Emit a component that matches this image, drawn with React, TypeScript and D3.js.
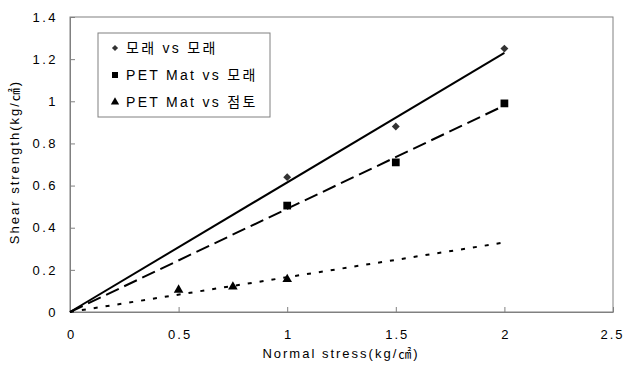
import { useEffect, useRef } from 'react';
import * as d3 from 'd3';

// data
const sandX = [1, 1.5, 2];
const sandY = [0.64, 0.88, 1.25];
const matSandX = [1, 1.5, 2];
const matSandY = [0.505, 0.71, 0.99];
const matClayX = [0.5, 0.75, 1];
const matClayY = [0.105, 0.12, 0.155];

// trendlines (through origin), start and end points
const trendX = [0, 2];
const sandTrend = [0, 1.23];
const matSandTrend = [0, 0.98];
const matClayTrend = [0, 0.33];

const xTicks = [0, 0.5, 1, 1.5, 2, 2.5];
const yTicks = [0, 0.2, 0.4, 0.6, 0.8, 1, 1.2, 1.4];
const legendLabels = ['모래 vs 모래', 'PET Mat vs 모래', 'PET Mat vs 점토'];

const FONT = '"Liberation Sans", Arial, "Noto Sans CJK KR", sans-serif';

const App = () => {
  const svgRef = useRef<SVGSVGElement>(null);

  useEffect(() => {
    const root = d3.select(svgRef.current);
    root.selectAll('*').remove();

    const W = 625;
    const H = 365;
    const margin = { top: 17, left: 70 };
    const width = 613 - margin.left;
    const height = 312 - margin.top;

    root.attr('width', W).attr('height', H);
    root.append('rect').attr('width', W).attr('height', H).attr('fill', '#fff');

    const svg = root.append('g').attr('transform', `translate(${margin.left},${margin.top})`);

    const x = d3.scaleLinear().domain([0, 2.5]).range([0, width]);
    const y = d3.scaleLinear().domain([0, 1.4]).range([height, 0]);

    // plot frame
    svg
      .append('rect')
      .attr('x', 0)
      .attr('y', 0)
      .attr('width', width)
      .attr('height', height)
      .attr('fill', 'none')
      .attr('stroke', '#808080')
      .attr('stroke-width', 1);

    // axes
    const xAxis = svg
      .append('g')
      .attr('transform', `translate(0,${height})`)
      .call(d3.axisBottom(x).tickValues(xTicks).tickSizeInner(-5).tickSizeOuter(0).tickFormat(d3.format('')));
    const yAxis = svg
      .append('g')
      .call(d3.axisLeft(y).tickValues(yTicks).tickSizeInner(-5).tickSizeOuter(0).tickFormat(d3.format('')));

    [xAxis, yAxis].forEach(a => {
      a.select('.domain').attr('stroke', '#808080');
      a.selectAll('.tick line').attr('stroke', '#808080');
      a.selectAll('.tick text')
        .attr('fill', '#000')
        .style('font-family', FONT)
        .style('font-size', '13px')
        .style('letter-spacing', '2.5px');
    });
    xAxis.selectAll('.tick text').attr('y', 18).attr('dx', 1).style('letter-spacing', '2px');
    xAxis.selectAll('.tick:last-of-type text').attr('dx', -1);
    yAxis.selectAll('.tick text').attr('x', -12);

    // axis titles
    svg
      .append('text')
      .attr('x', 271)
      .attr('y', height + 46)
      .attr('text-anchor', 'middle')
      .style('font-family', FONT)
      .style('font-size', '13px')
      .style('letter-spacing', '2px')
      .text('Normal stress(kg/㎠)');

    svg
      .append('text')
      .attr('transform', 'rotate(-90)')
      .attr('x', -145)
      .attr('y', -51)
      .attr('text-anchor', 'middle')
      .style('font-family', FONT)
      .style('font-size', '13px')
      .style('letter-spacing', '2px')
      .text('Shear strength(kg/㎠)');

    // trendlines
    const line = d3
      .line<number>()
      .x((d, i) => x(trendX[i]))
      .y(d => y(d));

    svg.append('path').datum(sandTrend).attr('d', line).attr('fill', 'none').attr('stroke', '#000').attr('stroke-width', 2);
    svg
      .append('path')
      .datum(matSandTrend)
      .attr('d', line)
      .attr('fill', 'none')
      .attr('stroke', '#000')
      .attr('stroke-width', 2)
      .attr('stroke-dasharray', '14 6');
    svg
      .append('path')
      .datum(matClayTrend)
      .attr('d', line)
      .attr('fill', 'none')
      .attr('stroke', '#000')
      .attr('stroke-width', 2)
      .attr('stroke-dasharray', '4 8');

    // markers
    const diamond = d3.symbol().type(d3.symbolDiamond2).size(40);
    const square = d3.symbol().type(d3.symbolSquare).size(60);
    const triangle = d3.symbol().type(d3.symbolTriangle).size(40);

    sandX.forEach((v, i) => {
      svg.append('path').attr('d', diamond()).attr('transform', `translate(${x(v)},${y(sandY[i])})`).attr('fill', '#333');
    });
    matSandX.forEach((v, i) => {
      svg.append('path').attr('d', square()).attr('transform', `translate(${x(v)},${y(matSandY[i])})`).attr('fill', '#000');
    });
    matClayX.forEach((v, i) => {
      svg.append('path').attr('d', triangle()).attr('transform', `translate(${x(v)},${y(matClayY[i])})`).attr('fill', '#000');
    });

    // legend
    const legend = root.append('g').attr('transform', 'translate(98,33)');
    legend
      .append('rect')
      .attr('width', 172)
      .attr('height', 84)
      .attr('fill', '#fff')
      .attr('stroke', '#808080')
      .attr('stroke-width', 1);

    const legendShapes = [
      d3.symbol().type(d3.symbolDiamond2).size(24),
      d3.symbol().type(d3.symbolSquare).size(36),
      d3.symbol().type(d3.symbolTriangle).size(30),
    ];
    const fills = ['#333', '#000', '#000'];
    legendLabels.forEach((label, i) => {
      const cy = 15 + i * 27;
      legend
        .append('path')
        .attr('d', legendShapes[i]())
        .attr('transform', `translate(17,${cy})`)
        .attr('fill', fills[i]);
      legend
        .append('text')
        .attr('x', 28)
        .attr('y', cy + 5)
        .style('font-family', FONT)
        .style('font-size', '14px')
        .style('letter-spacing', '2.3px')
        .text(label);
    });
  }, []);

  return <svg ref={svgRef} style={{ display: 'block', position: 'absolute', left: 0, top: 0 }}></svg>;
};

export default App;
